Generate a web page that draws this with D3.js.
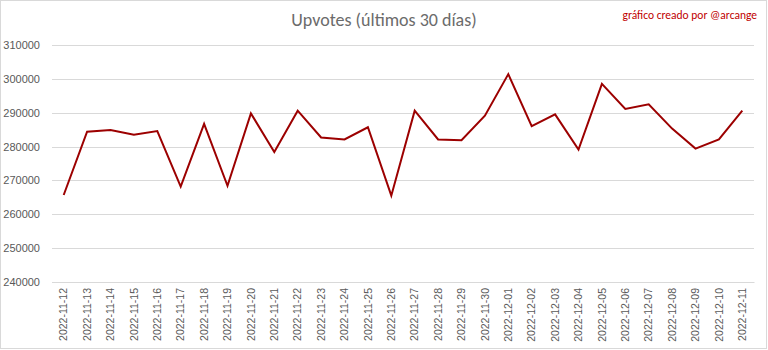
<!DOCTYPE html>
<html>
<head>
<meta charset="utf-8">
<script src="https://cdnjs.cloudflare.com/ajax/libs/d3/7.8.5/d3.min.js"></script>
<style>
  body { margin: 0; background: #fff; }
  svg { display: block; font-family: Carlito, Calibri, Lato, "Open Sans", sans-serif; }
  .grid line { stroke: #d9d9d9; shape-rendering: crispEdges; }
  .tick text { fill: #595959; }
</style>
</head>
<body>
<svg width="768" height="350"></svg>
<script>
var dates = ["2022-11-12","2022-11-13","2022-11-14","2022-11-15","2022-11-16","2022-11-17",
  "2022-11-18","2022-11-19","2022-11-20","2022-11-21","2022-11-22","2022-11-23","2022-11-24",
  "2022-11-25","2022-11-26","2022-11-27","2022-11-28","2022-11-29","2022-11-30","2022-12-01",
  "2022-12-02","2022-12-03","2022-12-04","2022-12-05","2022-12-06","2022-12-07","2022-12-08",
  "2022-12-09","2022-12-10","2022-12-11"];

var upvotes = [265700, 284400, 284900, 283500, 284600, 268200,
  286700, 268400, 289800, 278400, 290600, 282700, 282100,
  285700, 265500, 290600, 282100, 281900, 289100, 301400,
  286000, 289500, 279100, 298500, 291100, 292500, 285300,
  279400, 282100, 290600];

var yTicks = [240000, 250000, 260000, 270000, 280000, 290000, 300000, 310000];

var svg = d3.select("svg"),
    width = +svg.attr("width"),
    height = +svg.attr("height"),
    margin = {top: 45, right: 14, bottom: 68, left: 52},
    chartWidth = width - (margin.left + margin.right),
    chartHeight = height - (margin.top + margin.bottom);

// chart border
svg.append("rect")
    .attr("x", 0.5).attr("y", 0.5)
    .attr("width", width - 2).attr("height", height - 2)
    .attr("fill", "#fff")
    .attr("stroke", "#d9d9d9");

var g = svg.append("g")
    .attr("transform", "translate(" + margin.left + "," + margin.top + ")");

var x = d3.scaleBand().domain(dates).range([0, chartWidth]);
var y = d3.scaleLinear().domain([240000, 310000]).range([chartHeight, 0]);

// horizontal gridlines + y labels
var yAxis = g.append("g")
    .attr("class", "grid")
    .call(d3.axisLeft(y).tickValues(yTicks).tickSize(-chartWidth).tickPadding(12).tickFormat(d3.format("d")));
yAxis.select(".domain").remove();
yAxis.selectAll("text").style("font-size", "11px");

// x labels, rotated
var xAxis = g.append("g")
    .attr("transform", "translate(0," + chartHeight + ")")
    .call(d3.axisBottom(x).tickSize(0).tickPadding(0));
xAxis.select(".domain").attr("stroke", "#d9d9d9");
xAxis.selectAll("text")
    .style("font-size", "10.5px")
    .attr("transform", "rotate(-90)")
    .attr("text-anchor", "end")
    .attr("dx", "-6px")
    .attr("dy", "0.35em")
    .attr("x", 0).attr("y", 0);

var line = d3.line()
    .x(function(d, i) { return x(dates[i]) + x.bandwidth() / 2; })
    .y(function(d) { return y(d); });

g.append("path")
    .datum(upvotes)
    .attr("fill", "none")
    .attr("stroke", "#9c0000")
    .attr("stroke-width", 2)
    .attr("stroke-linejoin", "miter")
    .attr("d", line);

// title (Calibri Light look)
svg.append("text")
    .attr("x", width / 2)
    .attr("y", 26)
    .attr("text-anchor", "middle")
    .style("font-size", "18px")
    .style("font-weight", 300)
    .attr("fill", "#6b6b6b")
    .text("Upvotes (últimos 30 días)");

svg.append("text")
    .attr("x", 757)
    .attr("y", 19)
    .attr("text-anchor", "end")
    .style("font-size", "11.5px")
    .attr("fill", "#c00000")
    .text("gráfico creado por @arcange");
</script>
</body>
</html>
